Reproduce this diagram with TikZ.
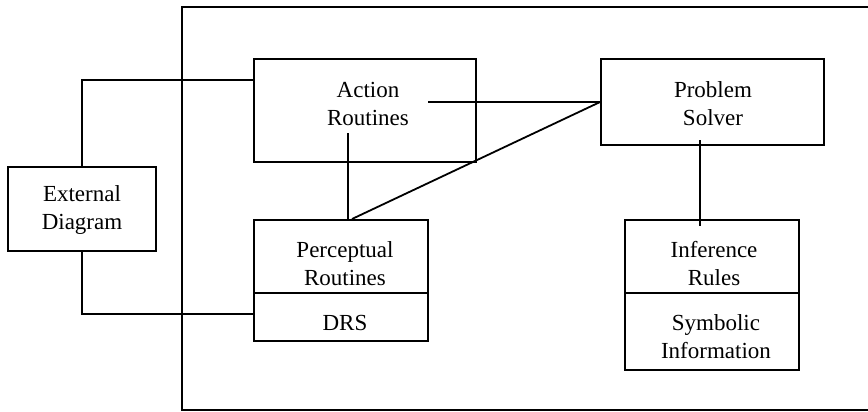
\documentclass[tikz,border=0pt]{standalone}
\usepackage{fontspec}
\setmainfont{Liberation Serif}
\begin{document}
\begin{tikzpicture}[x=1pt,y=-1pt,
  box/.style={draw, line width=1.8pt, inner sep=0pt},
  lbl/.style={align=center, inner sep=0pt, font=\fontsize{23}{28}\selectfont},
  link/.style={line width=1.8pt}]
\useasboundingbox (0,0) rectangle (868,412);

% enclosing frame (open on the right)
\draw[line width=2.4pt] (872,7) -- (182,7) -- (182,410) -- (872,410);

% boxes
\node[box, minimum width=148pt, minimum height=84pt]  (ext)  at (82,209) {};
\node[box, minimum width=222pt, minimum height=103pt] (act)  at (365,110.5) {};
\node[box, minimum width=223pt, minimum height=86pt]  (ps)   at (712.5,102) {};
\node[box, minimum width=174pt, minimum height=73pt]  (perc) at (341,256.5) {};
\node[box, minimum width=174pt, minimum height=48pt]  (drs)  at (341,317) {};
\node[box, minimum width=174pt, minimum height=73pt]  (inf)  at (712,256.5) {};
\node[box, minimum width=174pt, minimum height=77pt]  (sym)  at (712,331.5) {};

% labels
\node[lbl] (extT)  at (82,210)  {External\\Diagram};
\node[lbl] (actT)  at (368,104) {Action\\Routines};
\node[lbl] (psT)   at (713,104) {Problem\\Solver};
\node[lbl] (percT) at (345,264) {Perceptual\\Routines};
\node[lbl] (drsT)  at (345,323) {DRS};
\node[lbl] (infT)  at (714,264) {Inference\\Rules};
\node[lbl] (symT)  at (716,337) {Symbolic\\Information};

% connector bends and free ends
\coordinate (c1) at (82,80);
\coordinate (c2) at (82,314);
\coordinate (a1) at (428,102);
\coordinate (a2) at (348,133);
\coordinate (p1) at (348,220);
\coordinate (p2) at (352,219);
\coordinate (s1) at (700,140);
\coordinate (s2) at (700,226);

% connectors
\draw[link] (ext.north) -- (c1) -- (c1 -| act.west);
\draw[link] (ext.south) -- (c2) -- (c2 -| drs.west);
\draw[link] (a1) -- (a1 -| ps.west);
\draw[link] (a2) -- (p1);
\draw[link] (p2) -- (a1 -| ps.west);
\draw[link] (s1) -- (s2);
\end{tikzpicture}
\end{document}
